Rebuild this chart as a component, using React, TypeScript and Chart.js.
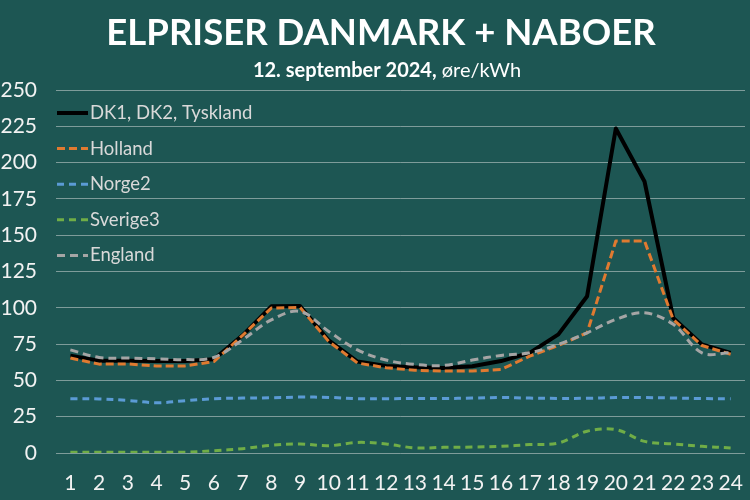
import { useEffect, useRef } from "react";
import { Chart, registerables } from "chart.js";

Chart.register(...registerables);

const TITLE = "ELPRISER DANMARK + NABOER";
const SUBTITLE_BOLD = "12. september 2024,";
const SUBTITLE_REST = " øre/kWh";

const hours = ["1","2","3","4","5","6","7","8","9","10","11","12","13","14","15","16","17","18","19","20","21","22","23","24"];

const dkTyskland = [67, 63.6, 63.5, 63.3, 63.3, 64.6, 81, 101, 101.3, 77.5, 63, 60, 59, 58.5, 59.8, 63.3, 69, 81.7, 108, 223.5, 187, 93, 74.8, 69];
const holland = [65.4, 61.2, 61.3, 60, 60, 63, 81, 99.8, 100.3, 76.8, 62, 58.7, 57, 56.4, 56.4, 57.5, 66.7, 74, 82.8, 146, 146, 92, 74, 68];
const norge2 = [37.4, 37.2, 36.2, 34.6, 36, 37.4, 37.8, 38, 38.5, 38.3, 37.4, 37.4, 37.5, 37.5, 37.8, 38.2, 37.8, 37.6, 37.7, 38.2, 38.2, 37.9, 37.5, 37.3];
const sverige3 = [0.5, 0.5, 0.5, 0.5, 0.6, 1.6, 3, 5.3, 6.2, 5, 7.3, 6.2, 3.5, 3.9, 4.1, 4.6, 5.8, 6.9, 15, 16.1, 8, 6.2, 4.6, 3.5];
const england = [71, 65.8, 65.4, 64.9, 64.3, 65.8, 78, 91.7, 97.5, 83.7, 71, 64, 61, 60.3, 64, 67.2, 69, 74.8, 82.8, 92, 96.6, 88.6, 69, 69];

const seriesNames = ["DK1, DK2, Tyskland", "Holland", "Norge2", "Sverige3", "England"];
const seriesColors = ["#000000", "#E07A30", "#5B9BD5", "#70AD47", "#A5A5A5"];

const BG = "#1d5653";
const FONT = "Lato, 'Open Sans', sans-serif";

const textPlugin = {
  id: "customText",
  afterDraw(chart: any) {
    const { ctx, chartArea } = chart;
    ctx.save();
    // Title
    ctx.fillStyle = "#ffffff";
    ctx.textAlign = "center";
    ctx.textBaseline = "middle";
    ctx.font = `bold 36.5px ${FONT}`;
    ctx.fillText(TITLE, 381, 33);
    // Subtitle with mixed weights
    ctx.font = `bold 20px ${FONT}`;
    const w1 = ctx.measureText(SUBTITLE_BOLD).width;
    ctx.font = `20px ${FONT}`;
    const w2 = ctx.measureText(SUBTITLE_REST).width;
    const start = 387 - (w1 + w2) / 2;
    ctx.textAlign = "left";
    ctx.font = `bold 20px ${FONT}`;
    ctx.fillText(SUBTITLE_BOLD, start, 71);
    ctx.font = `20px ${FONT}`;
    ctx.fillText(SUBTITLE_REST, start + w1, 71);

    // Legend
    const x0 = chartArea.left + 1;
    const y0 = chartArea.top + 23;
    chart.data.datasets.forEach((ds: any, i: number) => {
      const y = y0 + i * 35.6;
      ctx.beginPath();
      ctx.setLineDash(ds.borderDash || []);
      ctx.lineWidth = ds.borderWidth;
      ctx.strokeStyle = ds.borderColor;
      ctx.moveTo(x0, y);
      ctx.lineTo(x0 + 31, y);
      ctx.stroke();
      ctx.setLineDash([]);
      ctx.fillStyle = "#d9d9d9";
      ctx.font = `18.5px ${FONT}`;
      ctx.textAlign = "left";
      ctx.textBaseline = "middle";
      ctx.fillText(ds.label, x0 + 33, y);
    });
    ctx.restore();
  },
};

export default function App() {
  const canvasRef = useRef<HTMLCanvasElement | null>(null);

  useEffect(() => {
    document.body.style.margin = "0";
    const canvas = canvasRef.current;
    if (!canvas) return;
    const values = [dkTyskland, holland, norge2, sverige3, england];
    const dashes = [[], [8, 4], [7, 5], [7, 5], [8, 5]];
    const widths = [4, 3, 3, 3, 3];
    const tensions = [0, 0, 0.35, 0.35, 0.35];
    const orders = [5, 4, 3, 2, 1];
    const chart = new Chart(canvas, {
      type: "line",
      data: {
        labels: hours,
        datasets: values.map((v, i) => ({
          label: seriesNames[i],
          data: v,
          borderColor: seriesColors[i],
          backgroundColor: seriesColors[i],
          borderWidth: widths[i],
          borderDash: dashes[i],
          tension: tensions[i],
          pointRadius: 0,
          fill: false,
          order: orders[i],
          borderJoinStyle: "round" as const,
        })),
      },
      options: {
        responsive: false,
        animation: false,
        layout: { padding: { top: 90, right: 5, bottom: 0, left: 0 } },
        plugins: {
          legend: { display: false },
          title: { display: false },
          tooltip: { enabled: false },
        },
        scales: {
          x: {
            offset: true,
            grid: { display: false, drawTicks: false },
            border: { display: false },
            afterFit: (scale: any) => {
              scale.height = 47;
              scale.paddingLeft = 0;
              scale.paddingRight = 0;
            },
            ticks: {
              color: "#f2f2f2",
              font: { family: FONT, size: 21 },
              padding: 18,
              maxRotation: 0,
              autoSkip: false,
            },
          },
          y: {
            min: 0,
            max: 250,
            grid: { color: "rgba(205,215,214,0.55)", lineWidth: 1, drawTicks: false },
            border: { display: false },
            afterFit: (scale: any) => { scale.width = 56; },
            ticks: {
              stepSize: 25,
              color: "#f2f2f2",
              font: { family: FONT, size: 21 },
              padding: 19,
            },
          },
        },
      },
      plugins: [textPlugin],
    });
    return () => chart.destroy();
  }, []);

  return (
    <div style={{ position: "fixed", left: 0, top: 0, width: 750, height: 500, background: BG }}>
      <canvas ref={canvasRef} width={750} height={500} />
    </div>
  );
}
